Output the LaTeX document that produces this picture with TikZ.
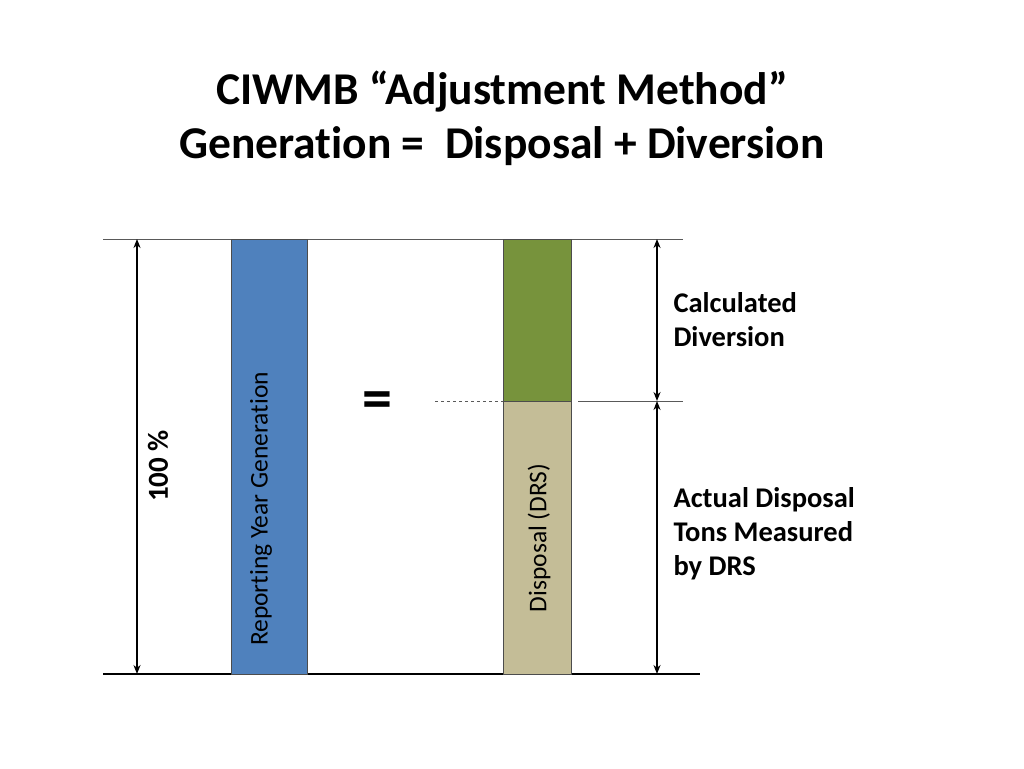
\documentclass[tikz,border=0pt]{standalone}
\usepackage{fontspec}
\setmainfont[Ligatures=NoCommon]{Carlito}
\usetikzlibrary{arrows.meta}
\begin{document}
\begin{tikzpicture}[x=1pt,y=-1pt,
  dim/.style={draw=black,line width=1.5pt,{Stealth[length=9pt,width=7pt]}-{Stealth[length=9pt,width=7pt]}},
  lbl/.style={font=\bfseries\fontsize{28.5}{34}\selectfont,align=left,anchor=north west},
  vlbl/.style={rotate=90,font=\fontsize{25.5}{28}\selectfont}]
\useasboundingbox (0,0) rectangle (1024,768);
\node[font=\bfseries\fontsize{45.5}{54}\selectfont,align=center] (title) at (502,118) {CIWMB “Adjustment Method”\\Generation = \ Disposal + Diversion};
\draw[gray!70!black,line width=0.8pt] (103,239) -- (683,239);
\draw[gray!70!black,line width=0.8pt] (578,401) -- (683,401);
\draw[black,line width=2.5pt] (103,674) -- (700,674);
\coordinate (a1) at (137,239); \coordinate (a2) at (137,674);
\draw[dim] (a1) -- (a2);
\node[vlbl,font=\bfseries\fontsize{29}{30}\selectfont] (pct) at (158,466) {100 \%};
\node[draw=black!70,fill={rgb,255:red,79;green,129;blue,189},minimum width=76pt,minimum height=435pt,inner sep=0pt,anchor=north west] (gen) at (231,239) {};
\node[vlbl] (gent) at (261,509) {Reporting Year Generation};
\node[font=\bfseries\fontsize{60}{60}\selectfont] (eq) at (377,405) {=};
\draw[dashed,gray!70!black,line width=0.8pt] (435,401) -- (503,401);
\node[draw=black!70,fill={rgb,255:red,119;green,147;blue,60},minimum width=68pt,minimum height=162pt,inner sep=0pt,anchor=north west] (div) at (503,239) {};
\node[draw=black!70,fill={rgb,255:red,196;green,189;blue,151},minimum width=68pt,minimum height=273pt,inner sep=0pt,anchor=north west] (dis) at (503,401) {};
\node[vlbl] (dist) at (539,538) {Disposal (DRS)};
\coordinate (b1) at (657,239); \coordinate (b2) at (657,401); \coordinate (b3) at (657,674);
\draw[dim] (b1) -- (b2);
\draw[dim] (b2) -- (b3);
\node[lbl] (cd) at (670,289) {Calculated\\Diversion};
\node[lbl] (ad) at (670,484) {Actual Disposal\\Tons Measured\\by DRS};
\end{tikzpicture}
\end{document}
